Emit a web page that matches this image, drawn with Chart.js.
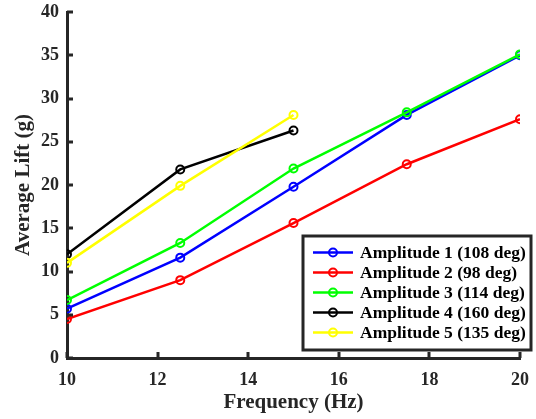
<!DOCTYPE html>
<html>
<head>
<meta charset="utf-8">
<script src="https://cdn.jsdelivr.net/npm/chart.js@4/dist/chart.umd.min.js"></script>
<style>
  html, body { margin: 0; padding: 0; background: #ffffff; }
  #wrap { width: 536px; height: 419px; }
</style>
</head>
<body>
<div id="wrap"><canvas id="c" width="536" height="419"></canvas></div>
<script>
// ---- data ----
const freqLong = [10, 12.5, 15, 17.5, 20];
const freqShort = [10, 12.5, 15];
const amp1 = [5.7, 11.6, 19.8, 28.1, 35.0];
const amp2 = [4.5, 9.0, 15.6, 22.4, 27.6];
const amp3 = [6.7, 13.3, 21.9, 28.4, 35.1];
const amp4 = [12.0, 21.8, 26.3];
const amp5 = [11.0, 19.9, 28.1];
const seriesLabels = [
  'Amplitude 1 (108 deg)',
  'Amplitude 2 (98 deg)',
  'Amplitude 3 (114 deg)',
  'Amplitude 4 (160 deg)',
  'Amplitude 5 (135 deg)'
];
const seriesColors = ['#0000ff', '#ff0000', '#00ff00', '#000000', '#ffff00'];
const xTicks = [10, 12, 14, 16, 18, 20];
const yTicks = [0, 5, 10, 15, 20, 25, 30, 35, 40];
const xTitle = 'Frequency (Hz)';
const yTitle = 'Average Lift (g)';

const FONT = '"Liberation Serif", "Times New Roman", serif';
const AXIS = '#262626';

function pts(xs, ys) { return xs.map((x, i) => ({ x: x, y: ys[i] })); }
const seriesData = [
  pts(freqLong, amp1), pts(freqLong, amp2), pts(freqLong, amp3),
  pts(freqShort, amp4), pts(freqShort, amp5)
];

const datasets = seriesData.map((d, i) => ({
  label: seriesLabels[i],
  data: d,
  borderColor: seriesColors[i],
  backgroundColor: 'rgba(0,0,0,0)',
  pointBorderColor: seriesColors[i],
  pointBackgroundColor: 'rgba(0,0,0,0)',
  borderWidth: 2.5,
  pointRadius: 4,
  pointBorderWidth: 2,
  tension: 0,
  order: seriesData.length - i
}));

// inward ticks
const inwardTicks = {
  id: 'inwardTicks',
  afterDatasetsDraw(chart) {
    const ctx = chart.ctx, a = chart.chartArea;
    const xs = chart.scales.x, ys = chart.scales.y;
    ctx.save();
    ctx.strokeStyle = AXIS;
    ctx.lineWidth = 3;
    ctx.beginPath();
    xs.ticks.forEach(t => {
      const px = Math.round(xs.getPixelForValue(t.value));
      ctx.moveTo(px, a.bottom);
      ctx.lineTo(px, a.bottom - 6);
    });
    ys.ticks.forEach(t => {
      const py = Math.round(ys.getPixelForValue(t.value));
      ctx.moveTo(a.left, py);
      ctx.lineTo(a.left + 6, py);
    });
    ctx.stroke();
    ctx.restore();
  }
};

// boxed legend inside plot area
const boxLegend = {
  id: 'boxLegend',
  afterDraw(chart) {
    const ctx = chart.ctx;
    const bx = 303, by = 236, bw = 228, bh = 114;
    ctx.save();
    ctx.fillStyle = '#ffffff';
    ctx.fillRect(bx, by, bw, bh);
    ctx.strokeStyle = AXIS;
    ctx.lineWidth = 3;
    ctx.strokeRect(bx, by, bw, bh);
    ctx.font = 'bold 17.5px ' + FONT;
    ctx.textBaseline = 'middle';
    ctx.textAlign = 'left';
    chart.data.datasets.forEach((ds, i) => {
      const cy = by + 16.5 + i * 20;
      ctx.strokeStyle = ds.borderColor;
      ctx.lineWidth = 2.5;
      ctx.beginPath();
      ctx.moveTo(313, cy);
      ctx.lineTo(353, cy);
      ctx.stroke();
      ctx.lineWidth = 2;
      ctx.beginPath();
      ctx.arc(333, cy, 4, 0, Math.PI * 2);
      ctx.stroke();
      ctx.fillStyle = '#000000';
      ctx.fillText(ds.label, 360, cy + 1);
    });
    ctx.restore();
  }
};

function zeroPad(s) { s.paddingTop = 0; s.paddingBottom = 0; s.paddingLeft = 0; s.paddingRight = 0; }

new Chart(document.getElementById('c'), {
  type: 'line',
  data: { datasets: datasets },
  options: {
    responsive: false,
    animation: false,
    devicePixelRatio: 1,
    layout: { padding: { left: 0, right: 16, top: 12, bottom: 0 } },
    plugins: { legend: { display: false }, tooltip: { enabled: false }, title: { display: false } },
    scales: {
      x: {
        type: 'linear',
        min: 10, max: 20,
        afterBuildTicks(s) { s.ticks = xTicks.map(v => ({ value: v })); },
        afterFit(s) { s.height = 61; zeroPad(s); },
        ticks: { font: { family: FONT, size: 18, weight: 'bold' }, color: AXIS, padding: 12 },
        grid: { display: true, drawOnChartArea: false, drawTicks: false },
        border: { display: true, color: AXIS, width: 3 },
        title: { display: true, text: xTitle, color: AXIS, font: { family: FONT, size: 21, weight: 'bold' }, padding: { top: 0, bottom: 4 } }
      },
      y: {
        type: 'linear',
        min: 0, max: 40,
        afterBuildTicks(s) { s.ticks = yTicks.map(v => ({ value: v })); },
        afterFit(s) { s.width = 67; zeroPad(s); },
        ticks: { font: { family: FONT, size: 18, weight: 'bold' }, color: AXIS, padding: 8 },
        grid: { display: true, drawOnChartArea: false, drawTicks: false },
        border: { display: true, color: AXIS, width: 3 },
        title: { display: true, text: yTitle, color: AXIS, font: { family: FONT, size: 21, weight: 'bold' }, padding: { top: 11, bottom: 0 } }
      }
    }
  },
  plugins: [inwardTicks, boxLegend]
});
</script>
</body>
</html>
